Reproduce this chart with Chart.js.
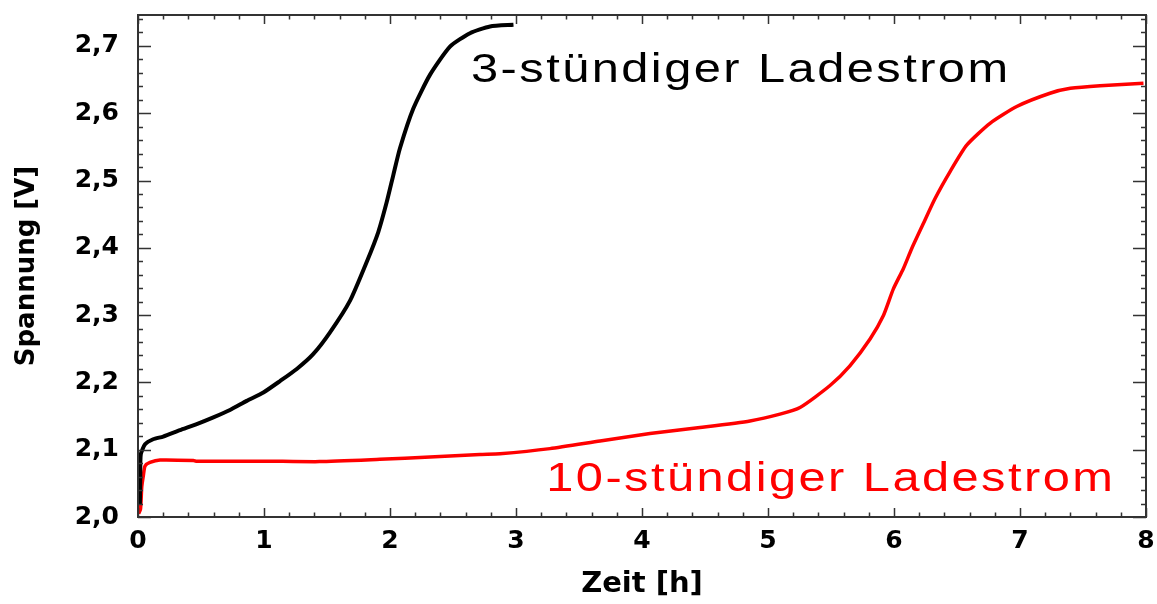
<!DOCTYPE html>
<html>
<head>
<meta charset="utf-8">
<script src="https://cdn.jsdelivr.net/npm/chart.js@4"></script>
<style>
  html, body { margin: 0; padding: 0; background: #fff; }
  #wrap { width: 1157px; height: 604px; }
</style>
</head>
<body>
<div id="wrap"><canvas id="chart" width="1157" height="604"></canvas></div>
<script>
// --- data ---
const xTicks = [0, 1, 2, 3, 4, 5, 6, 7, 8];
const yTicks = [2.0, 2.1, 2.2, 2.3, 2.4, 2.5, 2.6, 2.7];
const xMinorStep = 0.2;
const yMinorStep = 0.02;

// 3-stündiger Ladestrom (black)
const time3h = [0.015, 0.018, 0.022, 0.056, 0.12, 0.20, 0.333, 0.466, 0.598, 0.73, 0.863, 0.995,
  1.127, 1.26, 1.39, 1.524, 1.683, 1.815, 1.907, 1.974, 2.026, 2.079, 2.185, 2.317, 2.476,
  2.635, 2.794, 2.98];
const volt3h = [2.018, 2.06, 2.093, 2.108, 2.1155, 2.1195, 2.129, 2.138, 2.148, 2.159, 2.1726, 2.185,
  2.202, 2.22, 2.242, 2.2745, 2.3216, 2.379, 2.4235, 2.468, 2.508, 2.548, 2.607, 2.657, 2.699,
  2.719, 2.729, 2.7315];

// 10-stündiger Ladestrom (red)
const time10h = [0.005, 0.02, 0.03, 0.042, 0.056, 0.095, 0.175, 0.44, 0.46, 1.0, 1.44, 1.92, 2.317,
  2.714, 2.873, 3.27, 3.667, 4.063, 4.46, 4.857, 5.095, 5.254, 5.49, 5.65, 5.81, 5.915, 5.995,
  6.074, 6.14, 6.23, 6.325, 6.444, 6.577, 6.762, 6.974, 7.238, 7.4, 7.635, 7.98];
const volt10h = [2.005, 2.012, 2.045, 2.061, 2.0757, 2.081, 2.0847, 2.084, 2.083, 2.083, 2.0823, 2.0857, 2.089,
  2.093, 2.094, 2.1016, 2.113, 2.124, 2.133, 2.1428, 2.1528, 2.1627, 2.195, 2.2247, 2.2645, 2.299, 2.339,
  2.369, 2.3987, 2.435, 2.473, 2.513, 2.5526, 2.585, 2.61, 2.6297, 2.637, 2.641, 2.6445];

const labels = [
  { text: '3-stündiger Ladestrom', x: 2.643, y: 2.647, color: '#000' },
  { text: '10-stündiger Ladestrom', x: 3.24, y: 2.0385, color: '#ff0000' }
];

const toPoints = (xs, ys) => xs.map((x, i) => ({ x: x, y: ys[i] }));
const fmt = v => v.toFixed(1).replace('.', ',');

// frame + inward ticks on all four sides
const framePlugin = {
  id: 'frame',
  afterDraw(chart) {
    const { ctx, chartArea: a, scales: { x, y } } = chart;
    ctx.save();
    ctx.strokeStyle = '#333';
    ctx.lineWidth = 2;
    ctx.strokeRect(a.left, a.top, a.right - a.left, a.bottom - a.top);
    ctx.lineWidth = 1.5;
    ctx.beginPath();
    for (let v = x.min; v <= x.max + 1e-9; v += xMinorStep) {
      const major = Math.abs(v - Math.round(v)) < 1e-6;
      const len = major ? 9 : 4.5;
      const px = Math.round(x.getPixelForValue(v)) + 0.5;
      ctx.moveTo(px, a.bottom); ctx.lineTo(px, a.bottom - len);
      ctx.moveTo(px, a.top); ctx.lineTo(px, a.top + len);
    }
    for (let v = y.min; v <= y.max + 1e-9; v += yMinorStep) {
      const major = Math.abs(v * 10 - Math.round(v * 10)) < 1e-6;
      const len = major ? 13 : 5;
      const py = Math.round(y.getPixelForValue(v)) + 0.5;
      ctx.moveTo(a.left, py); ctx.lineTo(a.left + len, py);
      ctx.moveTo(a.right, py); ctx.lineTo(a.right - len, py);
    }
    ctx.stroke();
    ctx.restore();
  }
};

// curve labels, slightly stretched like the original
const labelPlugin = {
  id: 'curveLabels',
  afterDatasetsDraw(chart) {
    const { ctx, scales: { x, y } } = chart;
    labels.forEach(l => {
      ctx.save();
      ctx.translate(x.getPixelForValue(l.x), y.getPixelForValue(l.y));
      ctx.scale(1.22, 1);
      ctx.font = '40px "Liberation Sans", Arial, sans-serif';
      ctx.letterSpacing = '2px';
      ctx.fillStyle = l.color;
      ctx.textAlign = 'left';
      ctx.textBaseline = 'alphabetic';
      ctx.fillText(l.text, 0, 0);
      ctx.restore();
    });
  }
};

const tickFont = { family: '"DejaVu Sans", sans-serif', size: 25, weight: 'bold' };

new Chart(document.getElementById('chart'), {
  type: 'line',
  data: {
    datasets: [
      {
        label: '3-stündiger Ladestrom',
        data: toPoints(time3h, volt3h),
        borderColor: '#000',
        borderWidth: 4,
        pointRadius: 0,
        tension: 0.2
      },
      {
        label: '10-stündiger Ladestrom',
        data: toPoints(time10h, volt10h),
        borderColor: '#ff0000',
        borderWidth: 3.5,
        pointRadius: 0,
        tension: 0.2
      }
    ]
  },
  options: {
    responsive: false,
    animation: false,
    devicePixelRatio: 1,
    layout: { padding: { top: 15, right: 11, left: 0, bottom: 0 } },
    plugins: {
      legend: { display: false },
      tooltip: { enabled: false }
    },
    scales: {
      x: {
        type: 'linear',
        min: 0,
        max: 8,
        afterFit: s => { s.height = 87; s.paddingLeft = 0; s.paddingRight = 0; },
        afterBuildTicks: s => { s.ticks = xTicks.map(v => ({ value: v })); },
        grid: { display: false, drawTicks: false },
        border: { display: false },
        ticks: { color: '#000', font: tickFont, padding: 9, maxRotation: 0, callback: v => String(v) },
        title: {
          display: true, text: 'Zeit [h]', color: '#000',
          font: { family: '"DejaVu Sans", sans-serif', size: 29, weight: 'bold' },
          padding: { top: 0, bottom: 2 }
        }
      },
      y: {
        type: 'linear',
        min: 2.0,
        max: 2.746,
        afterFit: s => { s.width = 138; s.paddingTop = 0; s.paddingBottom = 0; },
        afterBuildTicks: s => { s.ticks = yTicks.map(v => ({ value: v })); },
        grid: { display: false, drawTicks: false },
        border: { display: false },
        ticks: { color: '#000', font: tickFont, padding: 19, callback: v => fmt(v) },
        title: {
          display: true, text: 'Spannung [V]', color: '#000',
          font: { family: '"DejaVu Sans", sans-serif', size: 26, weight: 'bold' },
          padding: { top: 12, bottom: 0 }
        }
      }
    }
  },
  plugins: [framePlugin, labelPlugin]
});
</script>
</body>
</html>
